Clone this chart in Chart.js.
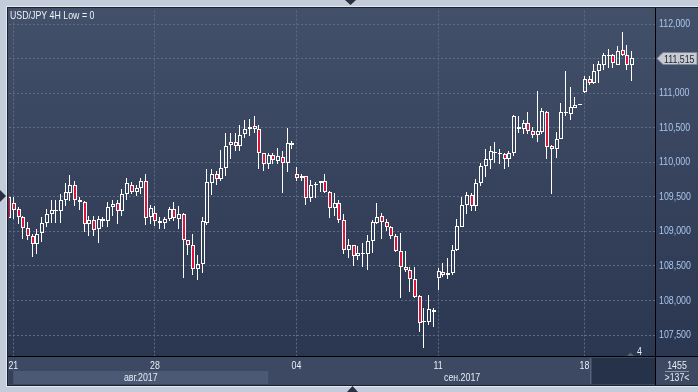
<!DOCTYPE html>
<html><head><meta charset="utf-8">
<script src="https://cdn.jsdelivr.net/npm/chart.js@4.4.0/dist/chart.umd.min.js"></script>
<style>html,body{margin:0;padding:0;background:#c3ccda;overflow:hidden}canvas{display:block}</style>
</head><body>
<canvas id="c" width="698" height="392"></canvas>
<script>
// ---- data (USD/JPY 4H candles, left to right) ----
const opens = [109.503,109.407,109.326,109.206,109.052,108.937,108.821,108.975,109.124,109.254,109.292,109.302,109.455,109.556,109.676,109.455,109.422,109.109,109.167,109.038,109.181,109.157,109.359,109.407,109.302,109.542,109.676,109.566,109.628,109.734,109.206,109.263,109.128,109.119,109.181,109.325,109.177,109.253,108.870,108.807,108.461,108.534,109.119,109.695,109.830,109.758,109.916,110.247,110.291,110.233,110.406,110.478,110.526,110.478,110.142,109.974,110.108,110.022,110.080,109.988,110.276,109.830,109.772,109.806,109.484,109.667,109.700,109.724,109.575,109.335,109.412,109.167,108.735,108.807,108.644,108.672,108.677,108.855,109.124,109.225,109.138,109.071,108.927,108.716,108.490,108.437,108.317,108.062,107.683,107.693,107.841,108.331,108.413,108.375,108.399,108.725,109.071,109.388,109.532,109.364,109.695,109.950,110.031,110.142,110.142,110.118,110.046,110.132,110.512,110.478,110.564,110.454,110.392,110.440,110.733,110.238,110.190,110.344,110.718,110.694,110.790,110.834,111.021,111.213,111.150,111.318,111.415,111.549,111.559,111.415,111.631,111.559,111.415];
const highs = [109.520,109.494,109.350,109.230,109.134,108.956,109.038,109.215,109.326,109.455,109.455,109.542,109.695,109.820,109.734,109.494,109.436,109.230,109.230,109.230,109.215,109.422,109.455,109.455,109.614,109.772,109.710,109.676,109.772,109.830,109.388,109.374,109.205,109.215,109.359,109.421,109.374,109.263,108.879,108.965,108.653,109.215,109.902,109.902,109.878,110.175,110.425,110.430,110.430,110.540,110.607,110.622,110.670,110.540,110.142,110.142,110.142,110.214,110.166,110.492,110.310,109.935,109.830,109.806,109.743,109.710,109.734,109.830,109.590,109.551,109.455,109.254,108.884,108.807,108.792,108.836,108.951,109.167,109.407,109.263,109.182,109.086,108.965,108.975,108.716,108.485,108.485,108.077,107.894,108.077,107.894,108.471,108.548,108.615,108.807,109.182,109.503,109.566,109.551,109.757,109.998,110.190,110.238,110.296,110.190,110.142,110.166,110.685,110.670,110.608,110.728,110.512,111.030,110.781,110.742,110.252,110.440,110.862,111.328,111.088,110.944,110.850,111.246,111.246,111.424,111.472,111.583,111.645,111.573,111.679,111.880,111.693,111.607];
const lows = [109.160,109.182,109.110,108.893,108.879,108.629,108.677,108.845,109.061,109.119,109.119,109.119,109.374,109.446,109.374,109.311,108.999,108.941,108.927,108.840,109.061,109.061,109.230,109.110,109.230,109.455,109.542,109.518,109.542,109.100,109.110,109.086,109.037,109.037,109.157,109.148,109.037,108.331,108.653,108.364,108.292,108.398,109.099,109.532,109.676,109.733,109.805,110.046,110.166,110.166,110.348,110.382,110.430,109.902,109.868,109.911,109.974,109.974,109.552,109.854,110.190,109.724,109.733,109.383,109.422,109.479,109.566,109.551,109.191,109.230,109.119,108.677,108.620,108.499,108.581,108.485,108.437,108.692,109.110,108.893,109.004,108.884,108.701,108.043,108.413,108.125,108.043,107.549,107.308,107.645,107.621,108.158,108.341,108.317,108.365,108.716,109.061,109.254,109.301,109.301,109.652,109.782,109.911,109.998,109.974,109.902,109.926,110.094,110.430,110.406,110.416,110.348,110.300,110.416,110.046,109.541,110.070,110.334,110.670,110.608,110.781,110.830,111.006,111.126,111.136,111.150,111.343,111.367,111.367,111.405,111.535,111.333,111.184];
const closes = [109.196,109.311,109.215,109.052,108.937,108.821,108.965,109.129,109.254,109.311,109.311,109.455,109.566,109.676,109.455,109.426,109.109,109.167,109.023,109.181,109.157,109.359,109.393,109.302,109.542,109.695,109.566,109.628,109.734,109.196,109.340,109.157,109.157,109.181,109.325,109.196,109.253,108.870,108.807,108.461,108.534,109.157,109.709,109.830,109.758,109.916,110.238,110.291,110.233,110.396,110.478,110.512,110.478,110.132,109.974,110.108,110.031,110.094,109.984,110.276,110.248,109.772,109.800,109.484,109.676,109.691,109.734,109.566,109.335,109.412,109.167,108.735,108.807,108.644,108.692,108.692,108.855,109.143,109.215,109.138,109.066,108.927,108.716,108.490,108.447,108.317,108.058,107.678,107.702,107.875,107.861,108.423,108.375,108.403,108.725,109.086,109.388,109.532,109.364,109.695,109.950,110.046,110.166,110.156,110.118,110.046,110.132,110.670,110.478,110.564,110.454,110.392,110.454,110.742,110.228,110.190,110.334,110.733,110.733,110.800,110.829,110.848,111.213,111.150,111.328,111.424,111.549,111.559,111.439,111.616,111.559,111.415,111.515];
const weekTickIndex = [1, 31, 61, 91, 122];
const weekTickLabels = ['21', '28', '04', '11', '18'];
const monthLabels = ['авг.2017', 'сен.2017'];
const monthEndIndex = [55];
const priceTicks = [107.5, 108, 108.5, 109, 109.5, 110, 110.5, 111, 111.5, 112];
const lastPrice = 111.515;
const titleText = 'USD/JPY 4H Low = 0';
const barsTotal = '1455';
const barsVisible = '>137<';
const cornerNote = '4';

// ---- build ----
const FONT = "'Liberation Sans', Arial, sans-serif";
const SQ = 0.8; // horizontal condensing of text (narrow UI font)
const idx = opens.map((_, i) => i);
const fmt = v => v.toFixed(3).replace('.', ',');
const bodyData = idx.map(i => ({x: i, y: [opens[i], closes[i]]}));
const upperWick = idx.map(i => ({x: i, y: [Math.max(opens[i], closes[i]), highs[i]]}));
const lowerWick = idx.map(i => ({x: i, y: [lows[i], Math.min(opens[i], closes[i])]}));
const bodyFill = idx.map(i => closes[i] < opens[i] ? '#dc143c' : 'rgba(0,0,0,0)');

function condensed(ctx, fn) {
  const orig = CanvasRenderingContext2D.prototype.fillText;
  ctx.fillText = function (t, x, y) {
    this.save(); this.translate(x, y); this.scale(SQ, 1); orig.call(this, t, 0, 0); this.restore();
  };
  try { fn(); } finally { delete ctx.fillText; }
}

const decor = {
  id: 'decor',
  afterDatasetsUpdate(chart) {
    // snap library-computed bar geometry to whole pixels for crisp candles
    chart.data.datasets.forEach((ds, di) => {
      const wick = ds.barThickness === 1;
      chart.getDatasetMeta(di).data.forEach(el => {
        const n = Math.floor(el.x);
        el.x = wick ? n + 0.5 : n + 1;
        let t = Math.round(Math.min(el.y, el.base)), b = Math.round(Math.max(el.y, el.base));
        if (!wick && b - t < 1) b = t + 1;
        el.y = t; el.base = b;
      });
    });
  },
  beforeDraw(chart) {
    const {ctx, scales: {x}} = chart;
    for (const s of [chart.scales.x, chart.scales.y]) {
      if (!s._cond) {
        const o = s.drawLabels;
        s.drawLabels = function (area) { condensed(ctx, () => o.call(this, area)); };
        s._cond = true;
      }
    }
    ctx.save();
    ctx.fillStyle = '#c3ccda'; ctx.fillRect(0, 0, 698, 392);
    ctx.fillStyle = '#e4e9f0'; ctx.fillRect(6, 6, 692, 381);
    ctx.fillStyle = '#1b2130'; ctx.fillRect(7, 7, 691, 379);
    const g = ctx.createLinearGradient(0, 8, 0, 356);
    g.addColorStop(0, '#435069'); g.addColorStop(1, '#2b3650');
    ctx.fillStyle = g; ctx.fillRect(8, 8, 690, 349);
    ctx.fillStyle = '#3d4963'; ctx.fillRect(8, 357, 690, 28);
    const a0 = x.getPixelForValue(weekTickIndex[0]);
    const a1 = x.getPixelForValue(monthEndIndex[0]);
    ctx.fillStyle = '#33405a'; ctx.fillRect(9, 371, a0 - 9, 13);
    ctx.fillStyle = '#4b5975'; ctx.fillRect(a0, 371, a1 - a0, 13);
    ctx.fillStyle = '#26314a'; ctx.fillRect(592, 358, 63, 26);
    ctx.fillStyle = '#56637c'; ctx.fillRect(590, 358, 1, 26);
    ctx.restore();
  },
  afterDraw(chart) {
    const {ctx, scales: {x, y}} = chart;
    ctx.save();
    ctx.fillStyle = '#000';
    ctx.fillRect(8, 356, 690, 1);
    ctx.fillRect(655, 8, 1, 377);
    condensed(ctx, () => {
      ctx.font = '11px ' + FONT;
      ctx.textBaseline = 'alphabetic';
      ctx.textAlign = 'left';
      ctx.fillStyle = '#eef2f8';
      ctx.fillText(titleText, 10, 19);
      const a0 = x.getPixelForValue(weekTickIndex[0]);
      const a1 = x.getPixelForValue(monthEndIndex[0]);
      ctx.textAlign = 'center';
      ctx.fillStyle = '#e6ecf4';
      ctx.fillText(monthLabels[0], (a0 + a1) / 2, 381);
      ctx.fillText(monthLabels[1], (a1 + 656) / 2, 381);
      ctx.fillText(barsTotal, 677, 369);
      ctx.fillText(barsVisible, 677, 381);
      ctx.textAlign = 'left';
      ctx.fillText(cornerNote, 637, 355);
    });
    ctx.fillStyle = '#8994a8'; ctx.fillRect(665, 371, 24, 1);
    ctx.fillStyle = '#56627a';
    ctx.beginPath(); ctx.moveTo(627, 356); ctx.lineTo(634, 356); ctx.lineTo(630.5, 352.5); ctx.closePath(); ctx.fill();
    // price tag
    const yp = Math.round(y.getPixelForValue(lastPrice)) + 0.5;
    ctx.beginPath();
    ctx.moveTo(657, yp); ctx.lineTo(663, yp - 6); ctx.lineTo(697, yp - 6);
    ctx.lineTo(697, yp + 6); ctx.lineTo(663, yp + 6); ctx.closePath();
    ctx.fillStyle = '#c7cbd2'; ctx.fill();
    ctx.strokeStyle = '#7e8692'; ctx.lineWidth = 1; ctx.stroke();
    condensed(ctx, () => {
      ctx.font = '11px ' + FONT;
      ctx.fillStyle = '#1c2230'; ctx.textAlign = 'left'; ctx.textBaseline = 'alphabetic';
      ctx.fillText(fmt(lastPrice), 664, yp + 4);
    });
    ctx.fillStyle = '#2a3142';
    ctx.beginPath(); ctx.moveTo(345, 0); ctx.lineTo(356, 0); ctx.lineTo(350.5, 5); ctx.closePath(); ctx.fill();
    ctx.beginPath(); ctx.moveTo(347, 392); ctx.lineTo(358, 392); ctx.lineTo(352.5, 386); ctx.closePath(); ctx.fill();
    ctx.beginPath(); ctx.moveTo(0, 190); ctx.lineTo(0, 202); ctx.lineTo(6, 196); ctx.closePath(); ctx.fill();
    ctx.restore();
  }
};

new Chart(document.getElementById('c'), {
  type: 'bar',
  data: {
    datasets: [
      {data: bodyData, backgroundColor: bodyFill, borderColor: '#ffffff', borderWidth: 1,
       borderSkipped: false, barThickness: 4, grouped: false, inflateAmount: 0},
      {data: upperWick, backgroundColor: '#ffffff', borderWidth: 0, barThickness: 1, grouped: false, inflateAmount: 0},
      {data: lowerWick, backgroundColor: '#ffffff', borderWidth: 0, barThickness: 1, grouped: false, inflateAmount: 0}
    ]
  },
  options: {
    responsive: false, animation: false, devicePixelRatio: 1, events: [],
    layout: {padding: {left: 9, top: 9, right: 0, bottom: 7}},
    plugins: {legend: {display: false}, tooltip: {enabled: false}, title: {display: false}},
    scales: {
      x: {
        type: 'linear', min: 0.085, max: 136.95, offset: false,
        afterBuildTicks: s => { s.ticks = weekTickIndex.map(v => ({value: v})); },
        afterFit: s => { s.height = 29; },
        ticks: {autoSkip: false, maxRotation: 0, padding: 3, color: '#e8eef6',
                font: {family: FONT, size: 11},
                callback: v => weekTickLabels[weekTickIndex.indexOf(v)] ?? ''},
        grid: {color: '#5c6b86', drawTicks: false, lineWidth: 1, offset: false},
        border: {display: false, dash: [2, 2]}
      },
      y: {
        position: 'right', min: 107.197, max: 112.197,
        afterBuildTicks: s => { s.ticks = priceTicks.map(v => ({value: v})); },
        afterFit: s => { s.width = 43; },
        ticks: {padding: 4, color: '#a9c6ee', font: {family: FONT, size: 11}, callback: v => fmt(v)},
        grid: {color: '#5c6b86', drawTicks: false, lineWidth: 1},
        border: {display: false, dash: [2, 2]}
      }
    }
  },
  plugins: [decor]
});
</script>
</body></html>
